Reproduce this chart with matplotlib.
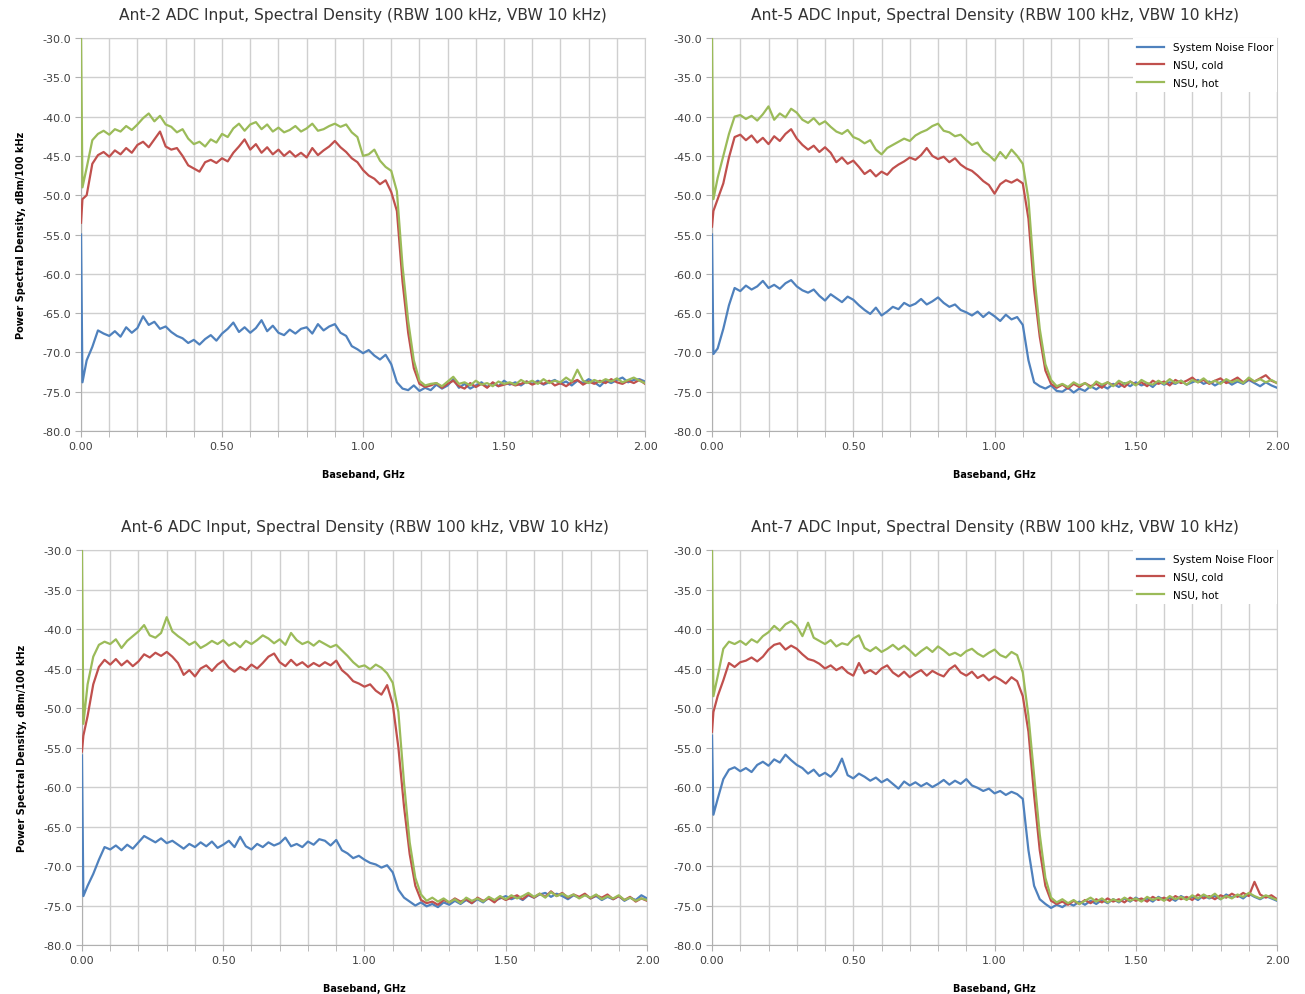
import numpy as np
import matplotlib
matplotlib.use("Agg")
from matplotlib import pyplot as plt
from matplotlib.ticker import MultipleLocator, FormatStrFormatter

# frequency samples, GHz (first two points catch the DC spike)
freq = np.concatenate([[0.0, 0.005], np.arange(1, 101) * 0.02])

# ---- Ant-2 ----
ant2_floor = [-55.0, -73.8,
    -71.0, -69.3, -67.2, -67.6, -67.9, -67.3, -68.0, -66.8, -67.5, -66.9,
    -65.4, -66.5, -66.1, -67.0, -66.7, -67.4, -67.9, -68.2, -68.8, -68.4,
    -69.0, -68.3, -67.8, -68.5, -67.6, -67.0, -66.2, -67.4, -66.8, -67.5,
    -66.9, -65.9, -67.3, -66.6, -67.5, -67.8, -67.1, -67.6, -67.0, -66.8,
    -67.6, -66.4, -67.2, -66.7, -66.4, -67.5, -67.9, -69.2, -69.6, -70.1,
    -69.7, -70.4, -70.9, -70.3, -71.5, -73.8, -74.6, -74.8, -74.2, -74.9,
    -74.5, -74.8, -74.1, -74.6, -74.2, -73.4, -74.5, -74.0, -74.6, -74.2,
    -73.8, -74.4, -73.9, -74.3, -73.6, -74.1, -73.8, -74.2, -73.7, -74.0,
    -73.6, -74.1, -73.8, -73.5, -74.0, -73.7, -74.2, -73.6, -73.9, -73.4,
    -73.8, -74.3, -73.6, -73.9, -73.5, -73.2, -73.8, -73.5, -73.4, -73.7]
ant2_cold = [-53.5, -50.5,
    -50.0, -46.0, -44.9, -44.5, -45.1, -44.3, -44.8, -44.0, -44.6, -43.6,
    -43.2, -43.9, -42.9, -41.9, -43.8, -44.2, -44.0, -45.0, -46.2, -46.6,
    -47.0, -45.8, -45.5, -45.9, -45.3, -45.7, -44.6, -43.8, -42.9, -44.2,
    -43.5, -44.6, -43.9, -44.8, -44.2, -45.0, -44.4, -45.1, -44.6, -45.2,
    -44.0, -44.9, -44.3, -43.8, -43.1, -43.9, -44.5, -45.3, -45.8, -46.8,
    -47.5, -47.9, -48.6, -48.1, -49.6, -52.0, -61.0, -67.5, -72.0, -74.0,
    -74.4, -74.2, -73.9, -74.5, -74.0, -73.6, -74.3, -74.6, -73.9, -74.4,
    -74.0, -74.5, -73.8, -74.3, -74.1, -73.9, -74.2, -74.0, -73.7, -74.1,
    -73.8, -74.0, -73.6, -74.2, -73.9, -74.3, -73.8, -73.5, -74.1, -73.7,
    -74.0, -73.6, -73.9, -73.4, -73.8, -74.0, -73.6, -73.9, -73.5, -74.0]
ant2_hot = [-30.0, -49.0,
    -46.5, -43.0, -42.2, -41.8, -42.3, -41.6, -41.9, -41.2, -41.7, -41.0,
    -40.2, -39.6, -40.6, -39.9, -41.0, -41.3, -42.0, -41.6, -42.8, -43.5,
    -43.2, -43.8, -42.9, -43.3, -42.2, -42.6, -41.5, -40.9, -41.8, -41.0,
    -40.7, -41.6, -41.0, -41.9, -41.4, -42.0, -41.7, -41.2, -41.9, -41.5,
    -40.9, -41.8, -41.6, -41.2, -40.9, -41.3, -41.0, -42.0, -42.6, -45.0,
    -44.8, -44.2, -45.6, -46.4, -46.9, -49.5, -59.0, -66.0, -71.0, -73.6,
    -74.2, -74.0, -73.9, -74.3, -73.7, -73.1, -74.0, -73.8, -74.2, -73.6,
    -74.1, -73.9, -74.3, -73.7, -74.0, -73.8, -74.1, -73.5, -73.9, -73.6,
    -74.0, -73.4, -73.9, -73.6, -73.8, -73.2, -73.7, -72.2, -73.6, -73.9,
    -73.5, -73.8, -73.4, -73.7, -73.3, -73.8, -73.5, -73.2, -73.6, -73.9]

# ---- Ant-5 ----
ant5_floor = [-55.0, -70.2,
    -69.5, -67.0, -64.0, -61.8, -62.2, -61.5, -62.0, -61.6, -60.9, -61.8,
    -61.4, -61.9, -61.2, -60.8, -61.6, -62.1, -62.4, -62.0, -62.8, -63.4,
    -62.6, -63.1, -63.6, -62.9, -63.3, -64.0, -64.6, -65.1, -64.3, -65.3,
    -64.8, -64.2, -64.5, -63.7, -64.1, -63.8, -63.2, -63.9, -63.5, -63.0,
    -63.7, -64.2, -63.9, -64.6, -64.9, -65.3, -64.8, -65.5, -64.9, -65.4,
    -66.0, -65.2, -65.8, -65.5, -66.5, -71.0, -73.8, -74.3, -74.6, -74.2,
    -74.9, -75.0, -74.5, -75.1, -74.6, -74.9, -74.3, -74.7, -74.2, -74.6,
    -74.0, -74.4, -73.9, -74.3, -73.8, -74.2, -73.9, -74.4, -73.7, -74.1,
    -73.8, -74.0, -73.6, -74.1, -73.8, -73.5, -74.0, -73.7, -74.2, -73.8,
    -73.6, -74.1, -73.7, -74.0, -73.5, -73.9, -74.3, -73.8, -74.2, -74.5]
ant5_cold = [-54.0, -52.0,
    -50.5, -48.5, -45.2, -42.6, -42.3, -43.0, -42.4, -43.3, -42.7, -43.5,
    -42.5, -43.1, -42.2, -41.6, -42.8, -43.6, -44.2, -43.7, -44.5, -43.9,
    -44.6, -45.8, -45.2, -46.0, -45.6, -46.4, -47.3, -46.8, -47.6, -47.0,
    -47.4, -46.6, -46.1, -45.7, -45.2, -45.5, -44.9, -44.0, -45.0, -45.4,
    -45.1, -45.8, -45.3, -46.1, -46.6, -46.9, -47.5, -48.2, -48.7, -49.8,
    -48.6, -48.1, -48.4, -48.0, -48.5, -53.0, -62.0, -68.0, -72.3, -74.0,
    -74.5, -74.1, -74.6, -74.0, -74.4, -73.9, -74.3, -74.0, -74.5, -73.8,
    -74.2, -73.9, -74.4, -73.7, -74.1, -73.8, -74.3, -73.6, -74.0, -73.7,
    -74.2, -73.5, -73.9, -73.6, -73.2, -73.8, -73.5, -74.0, -73.6, -73.3,
    -73.9, -73.6, -73.2, -73.8, -73.4, -73.7, -73.3, -72.9, -73.6, -73.9]
ant5_hot = [-30.0, -50.5,
    -47.8, -45.0, -42.2, -40.0, -39.8, -40.3, -39.9, -40.5, -39.7, -38.7,
    -40.4, -39.6, -40.1, -39.0, -39.5, -40.4, -40.8, -40.2, -41.0, -40.6,
    -41.3, -41.9, -42.2, -41.7, -42.6, -42.9, -43.4, -43.0, -44.2, -44.8,
    -44.0, -43.6, -43.2, -42.8, -43.1, -42.4, -42.0, -41.7, -41.2, -40.9,
    -41.8, -42.0, -42.5, -42.3, -43.0, -43.6, -43.3, -44.4, -44.9, -45.6,
    -44.5, -45.3, -44.2, -45.0, -46.0, -50.5, -60.0, -67.0, -71.5, -73.5,
    -74.3, -74.0, -74.4, -73.8, -74.2, -73.9, -74.5, -73.7, -74.1, -73.8,
    -74.3, -73.6, -74.0, -73.7, -74.2, -73.5, -73.9, -74.1, -73.6, -74.0,
    -73.4, -73.9, -73.6, -74.1, -73.5, -73.8, -73.3, -73.9, -73.6, -74.0,
    -73.4, -73.8, -73.5, -73.9, -73.2, -73.7, -73.4, -73.8, -73.5, -73.9]

# ---- Ant-6 ----
ant6_floor = [-56.0, -73.8,
    -72.5, -71.0, -69.2, -67.6, -67.9, -67.4, -68.0, -67.3, -67.8, -67.0,
    -66.2, -66.6, -67.0, -66.5, -67.1, -66.8, -67.3, -67.8, -67.2, -67.6,
    -67.0, -67.5, -66.9, -67.7, -67.3, -66.8, -67.6, -66.3, -67.5, -67.9,
    -67.2, -67.6, -67.0, -67.4, -67.1, -66.4, -67.5, -67.2, -67.6, -66.9,
    -67.3, -66.6, -66.8, -67.4, -66.7, -68.0, -68.4, -69.0, -68.7, -69.2,
    -69.6, -69.8, -70.2, -69.9, -70.8, -73.0, -74.0, -74.5, -75.0, -74.6,
    -75.1, -74.8, -75.2, -74.6, -74.9, -74.4, -74.8, -74.3, -74.7, -74.2,
    -74.6, -74.0, -74.4, -74.1, -73.8, -74.2, -73.9, -74.3, -73.7, -74.0,
    -73.6, -73.4, -73.9, -73.5, -73.8, -74.2, -73.7, -74.0, -73.6, -74.1,
    -73.8, -74.3, -73.9, -74.2, -73.8, -74.4, -74.0, -74.3, -73.7, -74.1]
ant6_cold = [-55.5, -53.5,
    -51.0, -47.0, -44.8, -43.9, -44.5, -43.8, -44.6, -44.0, -44.7, -44.1,
    -43.2, -43.6, -43.0, -43.4, -42.9, -43.5, -44.3, -45.8, -45.2, -46.0,
    -45.0, -44.6, -45.3, -44.5, -44.0, -44.9, -45.4, -44.8, -45.2, -44.5,
    -45.0, -44.3, -43.5, -43.1, -44.2, -44.7, -43.9, -44.6, -44.2, -44.8,
    -44.3, -44.7, -44.2, -44.6, -44.0, -45.2, -45.8, -46.6, -46.9, -47.3,
    -47.0, -47.8, -48.3, -47.1, -49.5, -55.0, -62.5, -68.5, -72.5, -74.3,
    -74.7, -74.5, -74.9, -74.3, -74.6, -74.1, -74.5, -74.2, -74.7, -74.0,
    -74.4, -74.1, -74.6, -73.9, -74.3, -74.0, -73.7, -74.2, -73.6, -74.0,
    -73.5, -73.9, -73.2, -73.8, -73.4, -74.0, -73.6, -73.9, -73.5, -74.1,
    -73.7, -74.0, -73.6, -74.2, -73.8, -74.3, -73.9, -74.5, -74.1, -74.4]
ant6_hot = [-30.0, -52.0,
    -47.0, -43.5, -42.0, -41.6, -41.9, -41.3, -42.4, -41.5, -40.9, -40.3,
    -39.5, -40.8, -41.1, -40.5, -38.5, -40.3, -40.9, -41.4, -42.0, -41.6,
    -42.4, -42.0, -41.5, -41.9, -41.4, -42.1, -41.7, -42.3, -41.5, -41.9,
    -41.4, -40.8, -41.2, -41.8, -41.3, -42.0, -40.5, -41.4, -41.9, -41.6,
    -42.1, -41.5, -41.9, -42.3, -42.0, -42.7, -43.4, -44.2, -44.8, -44.6,
    -45.1, -44.5, -44.9, -45.6, -46.8, -50.5, -59.5, -67.0, -71.5, -73.6,
    -74.4, -74.0, -74.5, -74.1, -74.6, -74.2, -74.7, -74.0, -74.4, -74.1,
    -74.5, -73.9, -74.3, -73.8, -74.2, -73.7, -74.1, -73.8, -73.4, -73.9,
    -73.5, -74.0, -73.3, -73.8, -73.5, -73.9, -73.6, -74.1, -73.7, -74.0,
    -73.6, -74.2, -73.8, -74.1, -73.7, -74.3, -74.0, -74.4, -74.1, -74.3]

# ---- Ant-7 ----
ant7_floor = [-53.5, -63.5,
    -61.5, -59.0, -57.8, -57.5, -58.0, -57.6, -58.1, -57.2, -56.8, -57.3,
    -56.5, -56.9, -55.9, -56.6, -57.2, -57.6, -58.3, -57.8, -58.6, -58.2,
    -58.7, -57.9, -56.4, -58.5, -58.9, -58.3, -58.7, -59.2, -58.8, -59.4,
    -59.0, -59.6, -60.2, -59.3, -59.8, -59.4, -59.9, -59.5, -60.0, -59.6,
    -59.1, -59.7, -59.2, -59.6, -59.0, -59.8, -60.1, -60.5, -60.2, -60.8,
    -60.5, -61.0, -60.6, -60.9, -61.5, -68.0, -72.5, -74.2, -74.8, -75.3,
    -74.9, -75.2, -74.7, -75.0, -74.5, -74.9, -74.4, -74.8, -74.3, -74.7,
    -74.2, -74.6, -74.1, -74.5, -74.0, -74.4, -74.1, -74.5, -73.9, -74.3,
    -74.0, -74.4, -73.8, -74.2, -73.9, -74.3, -73.7, -74.1, -73.8, -74.2,
    -73.6, -74.0, -73.7, -74.1, -73.5, -73.9, -74.2, -73.8, -74.1, -74.4]
ant7_cold = [-53.0, -50.5,
    -48.5, -46.5, -44.3, -44.8, -44.2, -44.0, -43.6, -44.1, -43.5, -42.6,
    -42.0, -41.8, -42.6, -42.1, -42.5, -43.2, -43.8, -44.0, -44.4, -45.0,
    -44.6, -45.2, -44.8, -45.5, -45.9, -44.3, -45.6, -45.2, -45.7, -45.0,
    -44.6, -45.5, -46.0, -45.4, -46.1, -45.6, -45.2, -45.9, -45.3, -45.7,
    -46.0, -45.1, -44.6, -45.5, -45.9, -45.4, -46.2, -45.8, -46.5, -46.0,
    -46.4, -46.9, -46.1, -46.6, -48.5, -53.0, -61.0, -68.0, -72.5, -74.4,
    -74.8, -74.5, -74.9, -74.4, -74.8, -74.3, -74.7, -74.2, -74.6, -74.1,
    -74.5, -74.2, -74.6, -74.0, -74.4, -74.1, -74.5, -73.9, -74.3, -74.0,
    -74.4, -73.8, -74.2, -73.9, -74.3, -73.6, -74.1, -73.8, -74.2, -73.7,
    -74.0, -73.5, -73.9, -73.4, -73.8, -72.0, -73.6, -74.0, -73.7, -74.2]
ant7_hot = [-30.0, -48.5,
    -46.0, -42.5, -41.6, -41.9, -41.5, -42.0, -41.3, -41.7, -40.9, -40.4,
    -39.6, -40.2, -39.4, -39.0, -39.6, -40.9, -39.2, -41.1, -41.5, -41.9,
    -41.4, -42.2, -41.8, -42.0, -41.2, -40.8, -42.4, -42.8, -42.3, -42.9,
    -42.5, -42.0, -42.6, -42.1, -42.7, -43.4, -42.8, -42.3, -42.9, -42.2,
    -42.7, -43.3, -43.0, -43.4, -42.8, -42.5, -43.1, -43.5, -43.0, -42.6,
    -43.3, -43.6, -42.9, -43.3, -45.5, -51.0, -58.5, -66.0, -71.5, -74.0,
    -74.6, -74.2, -74.7, -74.3, -74.8, -74.4, -74.0, -74.5, -74.1, -74.6,
    -74.2, -74.5, -74.0, -74.4, -74.1, -74.5, -73.9, -74.3, -74.0, -74.4,
    -73.8, -74.2, -73.9, -74.3, -73.7, -74.1, -73.6, -74.0, -73.5, -74.2,
    -73.8, -74.1, -73.6, -73.9, -73.4, -73.8, -74.1, -73.7, -74.0, -74.3]

antennas = ["Ant-2", "Ant-5", "Ant-6", "Ant-7"]
floors = [ant2_floor, ant5_floor, ant6_floor, ant7_floor]
colds = [ant2_cold, ant5_cold, ant6_cold, ant7_cold]
hots = [ant2_hot, ant5_hot, ant6_hot, ant7_hot]

c_floor = "#4F81BD"
c_cold = "#C0504D"
c_hot = "#9BBB59"
grid_c = "#cfcfcf"

fig = plt.figure(figsize=(13.05, 9.95), dpi=100)

# axes boxes in figure fractions [left, bottom, width, height]
boxes = [
    [0.0621, 0.5658, 0.4322, 0.3950],
    [0.5456, 0.5658, 0.4330, 0.3950],
    [0.0628, 0.0492, 0.4330, 0.3970],
    [0.5456, 0.0492, 0.4330, 0.3970],
]

for i in range(4):
    ax = fig.add_axes(boxes[i])
    ax.plot(freq, floors[i], color=c_floor, lw=1.6, zorder=3, label="System Noise Floor")
    ax.plot(freq, colds[i], color=c_cold, lw=1.6, zorder=3, label="NSU, cold")
    ax.plot(freq, hots[i], color=c_hot, lw=1.6, zorder=3, label="NSU, hot")

    ax.set_xlim(0, 2.0)
    ax.set_ylim(-80, -30)
    ax.xaxis.set_major_locator(MultipleLocator(0.5))
    ax.xaxis.set_minor_locator(MultipleLocator(0.1))
    ax.yaxis.set_major_locator(MultipleLocator(5))
    ax.xaxis.set_major_formatter(FormatStrFormatter("%.2f"))
    ax.yaxis.set_major_formatter(FormatStrFormatter("%.1f"))
    ax.grid(True, which="both", axis="x", color=grid_c, lw=1.0)
    ax.grid(True, which="major", axis="y", color=grid_c, lw=1.0)
    ax.set_axisbelow(True)
    ax.tick_params(which="both", direction="out", length=4, color="#b0b0b0",
                   labelsize=8, labelcolor="#404040", pad=3)
    for s in ax.spines.values():
        s.set_color(grid_c)
    ax.spines["left"].set_color("#b0b0b0")
    ax.spines["bottom"].set_color("#b0b0b0")

    ax.set_title(antennas[i] + " ADC Input, Spectral Density (RBW 100 kHz, VBW 10 kHz)",
                 fontsize=11.2, color="#333333", pad=13.5)
    ax.set_xlabel("Baseband, GHz", fontsize=7, fontweight="bold", labelpad=13)
    if i % 2 == 0:
        ax.set_ylabel("Power Spectral Density, dBm/100 kHz", fontsize=7,
                      fontweight="bold", labelpad=12)
    else:
        leg = ax.legend(loc="upper right", bbox_to_anchor=(1.0, 1.0), borderaxespad=0.0,
                        fontsize=7.5, frameon=True, fancybox=False, framealpha=1,
                        edgecolor="none", facecolor="white", handlelength=2.6,
                        labelspacing=0.75)
        leg.set_zorder(5)

fig.savefig("out.png", dpi=100)
